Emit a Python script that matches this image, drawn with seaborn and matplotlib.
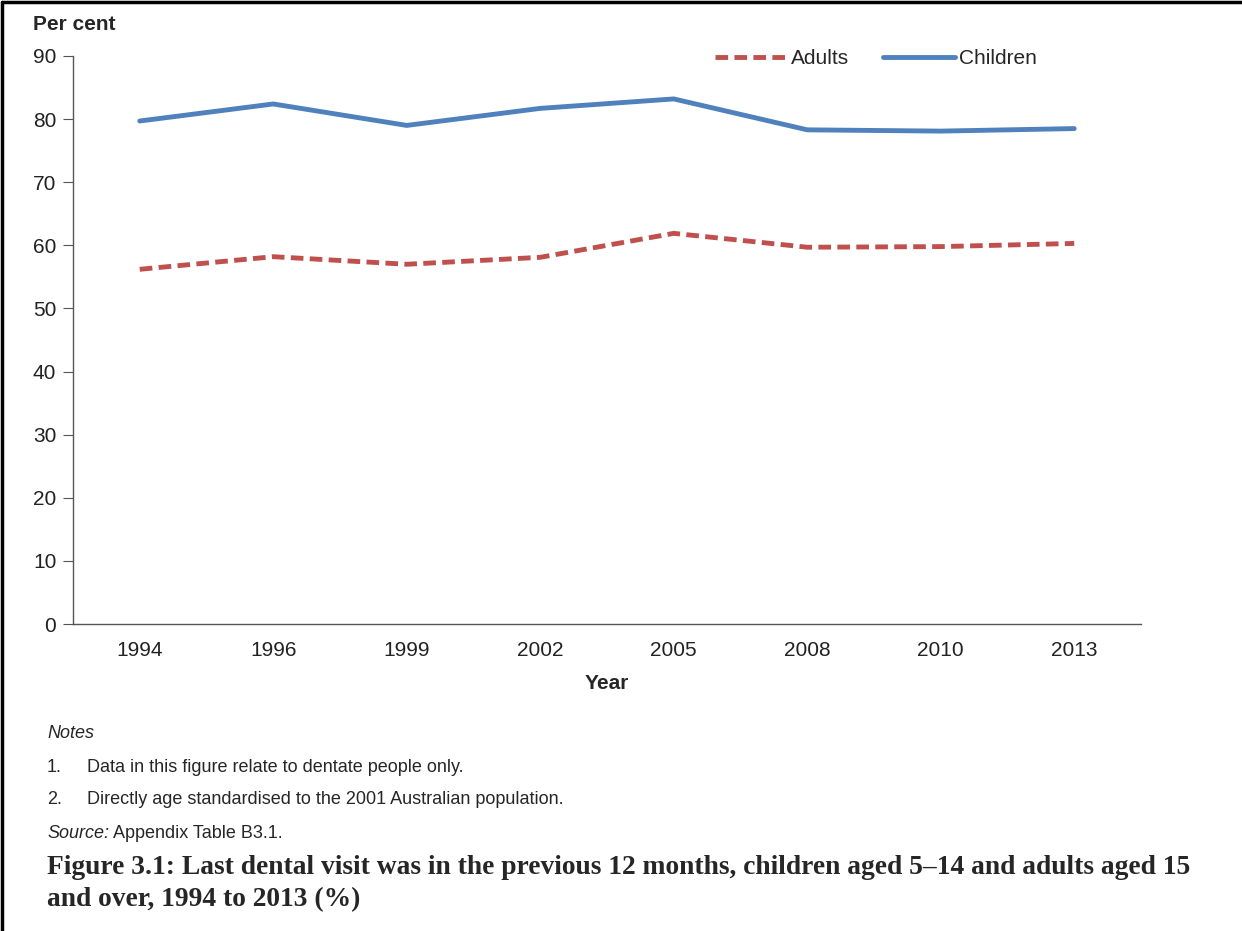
import numpy as np
import pandas as pd
import matplotlib
matplotlib.use("Agg")
import matplotlib.pyplot as plt
from matplotlib.lines import Line2D
import seaborn as sns

# data (per cent)
years = ['1994', '1996', '1999', '2002', '2005', '2008', '2010', '2013']
adults = [56.2, 58.2, 57.0, 58.1, 61.9, 59.7, 59.8, 60.3]
children = [79.7, 82.4, 79.0, 81.7, 83.2, 78.3, 78.1, 78.5]
yticks = [0, 10, 20, 30, 40, 50, 60, 70, 80, 90]

df = pd.DataFrame({
    'pos': list(range(len(years))) * 2,
    'value': adults + children,
    'group': ['Adults'] * len(years) + ['Children'] * len(years),
})

sns.set_style("white")
plt.rcParams['font.family'] = ['Liberation Sans', 'DejaVu Sans']

W, H = 1242, 931
fig = plt.figure(figsize=(W / 100, H / 100), dpi=100)
ax = fig.add_axes([73 / W, 1 - 624 / H, (1141 - 73) / W, (624 - 56) / H])

sns.lineplot(data=df, x='pos', y='value', hue='group', style='group',
             palette={'Adults': '#C0504D', 'Children': '#4F81BD'},
             dashes={'Adults': (2.6, 1.3), 'Children': ''},
             linewidth=3.5, ax=ax)

ax.set_xlim(-0.5, len(years) - 0.5)
ax.set_ylim(0, 90)
ax.set_yticks(yticks)
ax.set_xticks(np.arange(-0.5, len(years), 1.0))
ax.set_xticklabels([])
ax.set_xticks(range(len(years)), minor=True)
ax.set_xticklabels(years, minor=True)
ax.tick_params(axis='x', which='major', direction='out', length=7, color='#555555')
ax.tick_params(axis='x', which='minor', length=0, pad=12, labelsize=15, labelcolor='#222222')
ax.tick_params(axis='y', direction='out', length=7, color='#555555', labelsize=15,
               labelcolor='#222222', pad=5, left=True)
for s in ['top', 'right']:
    ax.spines[s].set_visible(False)
for s in ['left', 'bottom']:
    ax.spines[s].set_color('#555555')
    ax.spines[s].set_linewidth(1)

ax.set_xlabel('Year', fontsize=15, fontweight='bold', labelpad=10)
ax.set_ylabel('')

leg = ax.legend(loc='upper right', bbox_to_anchor=(0.92, 1.045), ncol=2, frameon=False,
                fontsize=15, handlelength=3.45, columnspacing=1.6, handletextpad=0.2)

fig.text(33 / W, 1 - 24 / H, 'Per cent', fontsize=15, fontweight='bold', va='center')

# notes underneath
fs = 13
fig.text(47 / W, 1 - 734 / H, 'Notes', fontsize=fs, style='italic', va='center')
fig.text(47 / W, 1 - 768 / H, '1.', fontsize=fs, va='center')
fig.text(87 / W, 1 - 768 / H, 'Data in this figure relate to dentate people only.', fontsize=fs, va='center')
fig.text(47 / W, 1 - 800 / H, '2.', fontsize=fs, va='center')
fig.text(87 / W, 1 - 800 / H, 'Directly age standardised to the 2001 Australian population.', fontsize=fs, va='center')
src = fig.text(47 / W, 1 - 833 / H, 'Source:', fontsize=fs, style='italic', va='center')
fig.canvas.draw()
bb = src.get_window_extent()
fig.text(bb.x1 / W + 4 / W, 1 - 833 / H, 'Appendix Table B3.1.', fontsize=fs, va='center')

serif = ['Liberation Serif', 'DejaVu Serif']
fig.text(47 / W, 1 - 867 / H,
         'Figure 3.1: Last dental visit was in the previous 12 months, children aged 5\u201314 and adults aged 15',
         fontsize=19.8, fontweight='bold', family=serif, va='center')
fig.text(47 / W, 1 - 900 / H, 'and over, 1994 to 2013 (%)',
         fontsize=19.8, fontweight='bold', family=serif, va='center')

# frame on top and left edge
fig.add_artist(Line2D([0.002, 0.002], [0, 0.998], color='black', linewidth=2.5))
fig.add_artist(Line2D([0.002, 1], [0.998, 0.998], color='black', linewidth=2.5))

fig.savefig('out.png', dpi=100)
